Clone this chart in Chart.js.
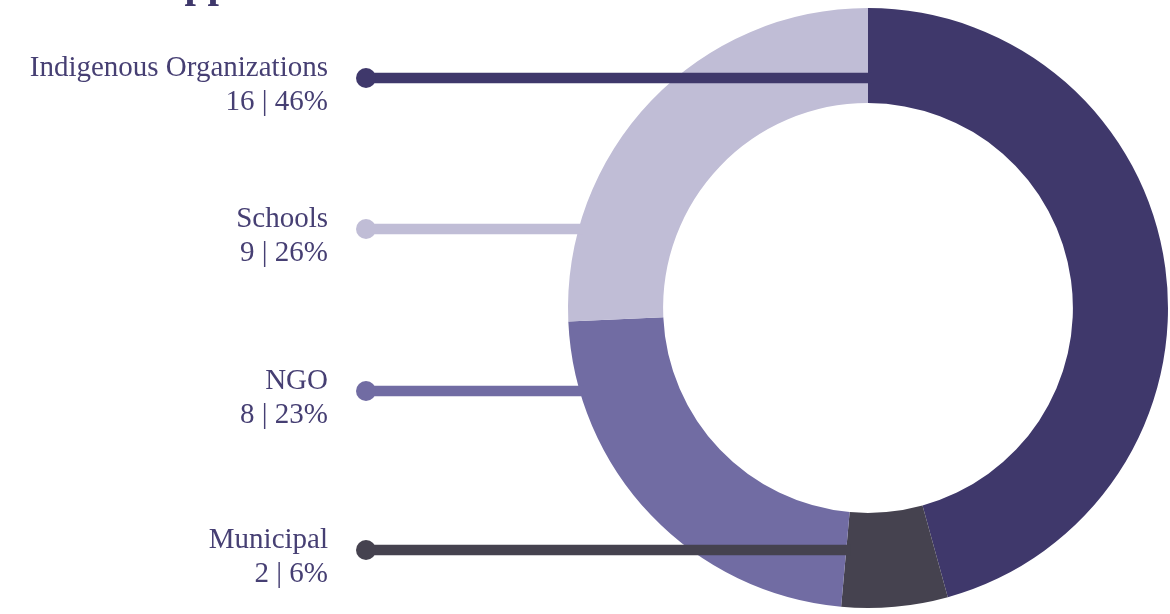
<!DOCTYPE html>
<html>
<head>
<meta charset="utf-8">
<script src="https://cdn.jsdelivr.net/npm/chart.js@4.4.1/dist/chart.umd.min.js"></script>
<style>
  html, body { margin: 0; padding: 0; background: #ffffff; }
  #wrap { width: 1170px; height: 614px; position: relative; }
</style>
</head>
<body>
<div id="wrap"><canvas id="c" width="1170" height="614"></canvas></div>
<script>
const categories = ["Indigenous Organizations", "Municipal", "NGO", "Schools"];
const counts = [16, 2, 8, 9];
const percents = ["46%", "6%", "23%", "26%"];
const colors = ["#3f386b", "#45424f", "#716ca3", "#c0bdd6"];
// order of labels on the left, top to bottom (indices into categories)
const labelOrder = [0, 3, 2, 1];
const labelRowY = [78, 229, 391, 550];
const titleText = "Applicants";

const textColor = "#463f73";

const leaderPlugin = {
  id: 'leaders',
  afterDatasetsDraw(chart) {
    const ctx = chart.ctx;
    const meta = chart.getDatasetMeta(0);
    const dotX = 366;
    ctx.save();
    // title (mostly cut off at the top)
    ctx.fillStyle = "#3f386b";
    ctx.font = "bold 41px 'Liberation Serif'";
    ctx.textAlign = "left";
    ctx.textBaseline = "alphabetic";
    ctx.fillText(titleText, 155, -3);

    labelOrder.forEach((idx, row) => {
      const y = labelRowY[row];
      const arc = meta.data[idx];
      let endX = dotX;
      for (let x = dotX; x < chart.width; x += 0.5) {
        if (arc.inRange(x, y)) { endX = x + 4; break; }
      }
      ctx.strokeStyle = colors[idx];
      ctx.lineWidth = 10.5;
      ctx.lineCap = "butt";
      ctx.beginPath();
      ctx.moveTo(dotX, y);
      ctx.lineTo(endX, y);
      ctx.stroke();
      ctx.fillStyle = colors[idx];
      ctx.beginPath();
      ctx.arc(dotX, y, 10, 0, Math.PI * 2);
      ctx.fill();

      ctx.fillStyle = textColor;
      ctx.textAlign = "right";
      ctx.font = "29px 'Liberation Serif'";
      ctx.fillText(categories[idx], 328, y - 2);
      ctx.fillText(counts[idx] + " | " + percents[idx], 328, y + 32);
    });
    ctx.restore();
  }
};

new Chart(document.getElementById('c'), {
  type: 'doughnut',
  data: {
    labels: categories,
    datasets: [{
      data: counts,
      backgroundColor: colors,
      borderWidth: 0,
      hoverOffset: 0
    }]
  },
  options: {
    responsive: false,
    animation: false,
    cutout: '68.3%',
    layout: { padding: { left: 568, right: 2, top: 8, bottom: 6 } },
    plugins: {
      legend: { display: false },
      tooltip: { enabled: false },
      title: { display: false }
    },
    events: []
  },
  plugins: [leaderPlugin]
});
</script>
</body>
</html>
